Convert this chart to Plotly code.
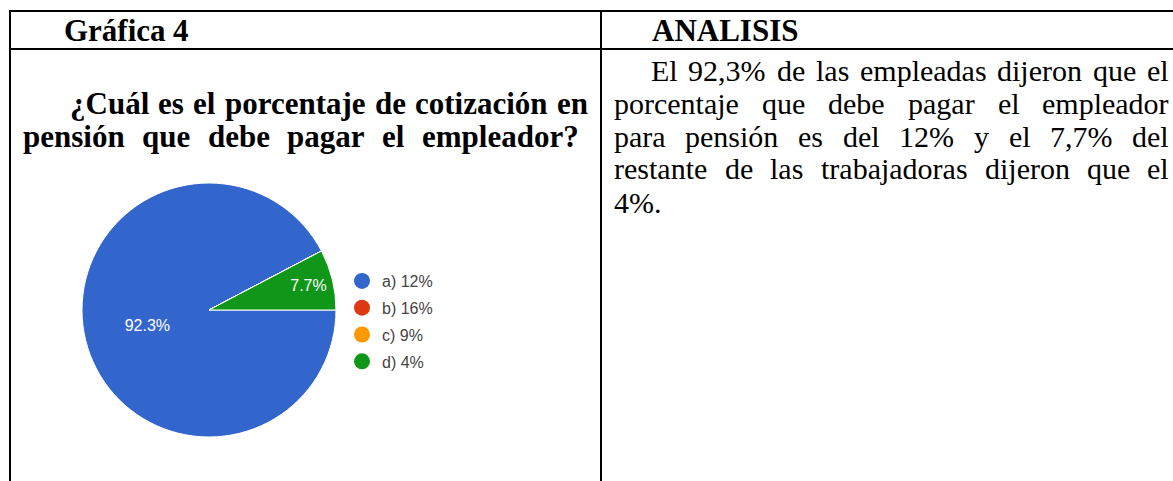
import plotly.graph_objects as go

W, H = 1173, 481

# ---------------- data ----------------
categories = ["a) 12%", "b) 16%", "c) 9%", "d) 4%"]
responses = [12, 0, 0, 1]
colors = ["#3366CC", "#DC3912", "#FF9900", "#109618"]

header_left = "Gráfica 4"
header_right = "ANALISIS"
question_lines = [
    "¿Cuál es el porcentaje de cotización en",
    "pensión que debe pagar el empleador?",
]
analysis_lines = [
    "El 92,3% de las empleadas dijeron que el",
    "porcentaje que debe pagar el empleador",
    "para pensión es del 12% y el 7,7% del",
    "restante de las trabajadoras dijeron que el",
    "4%.",
]

# Times metrics (per 1000 em) used to justify text lines
TIMES_REG = {' ': 250, '%': 833, ',': 250, '.': 250, '?': 444, 'E': 611, 'A': 722,
             'a': 444, 'b': 500, 'c': 444, 'd': 500, 'e': 444, 'f': 333, 'g': 500, 'h': 500,
             'i': 278, 'j': 278, 'k': 500, 'l': 278, 'm': 778, 'n': 500, 'o': 500, 'p': 500,
             'q': 500, 'r': 333, 's': 389, 't': 278, 'u': 500, 'v': 500, 'w': 722, 'x': 500,
             'y': 500, 'z': 444, 'ó': 500, 'í': 278, 'á': 444}
TIMES_BOLD = {' ': 250, '?': 500, '¿': 500, 'C': 722, 'G': 778, 'A': 722, 'N': 722, 'L': 667,
              'I': 389, 'S': 556, 'a': 500, 'b': 556, 'c': 444, 'd': 556, 'e': 444, 'f': 333,
              'g': 500, 'h': 556, 'i': 278, 'j': 333, 'k': 556, 'l': 278, 'm': 833, 'n': 556,
              'o': 500, 'p': 556, 'q': 556, 'r': 444, 's': 389, 't': 333, 'u': 556, 'v': 500,
              'w': 722, 'x': 500, 'y': 500, 'z': 444, 'á': 500, 'ó': 500, 'í': 278}

SERIF = "Liberation Serif, Times New Roman, serif"
SANS = "Liberation Sans, Arial, sans-serif"


def px(x):
    return x / W


def py(y):
    return 1 - y / H


def word_positions(line, left, right, size, table, justify):
    words = line.split(' ')
    ws = [sum(table.get(c, 500) for c in w) * size / 1000 for w in words]
    if justify and len(words) > 1:
        gap = (right - left - sum(ws)) / (len(words) - 1)
    else:
        gap = table[' '] * size / 1000
    out, x = [], left
    for w, wd in zip(words, ws):
        out.append((w, x))
        x += wd + gap
    return out


fig = go.Figure()

total = sum(responses)
pct_text = [f"{v / total * 100:.1f}%" if v else "" for v in responses]

fig.add_trace(go.Pie(
    values=responses, labels=categories, text=pct_text, textinfo="text",
    sort=False, direction="clockwise", rotation=90,
    marker=dict(colors=colors, line=dict(color="white", width=1)),
    textposition="inside", insidetextorientation="horizontal",
    textfont=dict(color="white", size=16, family=SANS),
    showlegend=False,
    domain=dict(x=[px(82), px(336)], y=[py(437), py(183)]),
))

for cat, col in zip(categories, colors):
    fig.add_trace(go.Scatter(
        x=[None], y=[None], mode="markers", name=cat, legendgroup=cat,
        marker=dict(color=col, size=16, symbol="circle"), showlegend=True,
    ))

annotations = []


def add_line(line, left, right, yc, size, table, bold, justify):
    for w, x in word_positions(line, left, right, size, table, justify):
        txt = f"<b>{w}</b>" if bold else w
        annotations.append(dict(
            text=txt, x=px(x), y=py(yc), xref="paper", yref="paper",
            xanchor="left", yanchor="middle", showarrow=False, borderpad=0,
            font=dict(family=SERIF, size=size, color="black"),
        ))


BOLD_SIZE = 31
BODY_SIZE = 30
add_line(header_left, 63, None, 30, BOLD_SIZE, TIMES_BOLD, True, False)
add_line(header_right, 651, None, 30, BOLD_SIZE, TIMES_BOLD, True, False)
q_extents = [(69, 587, 103), (22, 578, 136)]
for line, (l, r, yc) in zip(question_lines, q_extents):
    add_line(line, l, r, yc, BOLD_SIZE, TIMES_BOLD, True, True)
a_extents = [(650, 1168, 70), (613, 1168, 103), (613, 1168, 136), (613, 1168, 169), (613, None, 202)]
for line, (l, r, yc) in zip(analysis_lines, a_extents):
    add_line(line, l, r, yc, BODY_SIZE, TIMES_REG, False, r is not None)

shapes = [
    dict(type="line", xref="paper", yref="paper", x0=px(9), x1=px(1173), y0=py(11), y1=py(11)),
    dict(type="line", xref="paper", yref="paper", x0=px(9), x1=px(1173), y0=py(49), y1=py(49)),
    dict(type="line", xref="paper", yref="paper", x0=px(10), x1=px(10), y0=py(10), y1=py(481)),
    dict(type="line", xref="paper", yref="paper", x0=px(601), x1=px(601), y0=py(10), y1=py(481)),
]
for s in shapes:
    s["line"] = dict(color="black", width=2)

fig.update_layout(
    width=W, height=H, autosize=False,
    margin=dict(l=0, r=0, t=0, b=0),
    paper_bgcolor="white", plot_bgcolor="white",
    xaxis=dict(visible=False), yaxis=dict(visible=False),
    annotations=annotations, shapes=shapes,
    legend=dict(x=px(342), y=py(264), xanchor="left", yanchor="top",
                font=dict(family=SANS, size=16, color="#444444"),
                tracegroupgap=3, itemsizing="trace", bgcolor="rgba(0,0,0,0)"),
    showlegend=True,
)

fig.write_html("out.html", config={"displayModeBar": False},
               post_script="document.body.style.margin='0';")
